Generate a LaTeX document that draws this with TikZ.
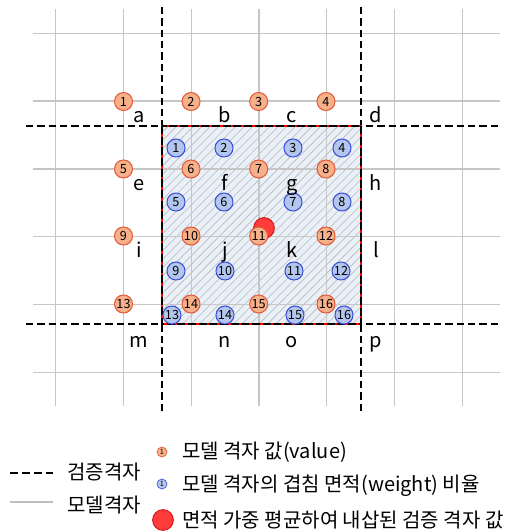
\documentclass[tikz,border=0pt]{standalone}
\usepackage{fontspec}
\setmainfont{Noto Sans CJK KR}
\usetikzlibrary{patterns.meta}

\begin{document}
\begin{tikzpicture}[x=0.75pt, y=-0.75pt]
    \definecolor{valFill}{HTML}{F6B08A}
    \definecolor{valBorder}{HTML}{E35B3A}
    \definecolor{weightFill}{HTML}{B3C6EE}
    \definecolor{weightBorder}{HTML}{3F51D6}
    \definecolor{estFill}{HTML}{FF3B3B}
    \definecolor{estBorder}{HTML}{D61F1F}
    \definecolor{areaFill}{HTML}{EAF0F8}

    \tikzset{
        modelgrid/.style={draw=gray!45, line width=1pt},
        valgrid/.style={draw=black, line width=2.2pt, dash pattern=on 5.5pt off 3pt},
        valnode/.style={circle, draw=valBorder, fill=valFill, line width=0.8pt, inner sep=0pt,
            minimum size=13.5pt, font=\fontsize{9.5}{9.5}\selectfont},
        weightnode/.style={valnode, draw=weightBorder, fill=weightFill},
        estnode/.style={circle, draw=estBorder, fill=estFill, line width=0.8pt, inner sep=0pt,
            minimum size=15.5pt},
        cellname/.style={anchor=base, inner sep=0pt, font=\fontsize{15}{15}\selectfont},
        legtext/.style={anchor=west, inner sep=0pt, font=\fontsize{15}{18}\selectfont}
    }

    \useasboundingbox (0,0) rectangle (513,532);

    % Overlapped area of the target cell
    \fill[areaFill] (162,126) rectangle (361,324);
    \fill[pattern={Lines[angle=45, distance=4.5pt, line width=0.45pt]}, pattern color=gray!55]
        (162,126) rectangle (361,324);

    % Model grid
    \foreach \i in {0,...,6}
        \draw[modelgrid] (55.7+67.75*\i,9) -- (55.7+67.75*\i,406);
    \foreach \j in {0,...,5}
        \draw[modelgrid] (33,33.3+67.8*\j) -- (500,33.3+67.8*\j);

    % Validation grid
    \foreach \x in {162,361}
        \draw[valgrid] (\x,7) -- (\x,413);
    \foreach \y in {126,324}
        \draw[valgrid] (26,\y) -- (500,\y);

    % Target cell border
    \draw[red, line width=2.2pt] (162,126) rectangle (361,324);
    \draw[black, line width=2.2pt, dash pattern=on 6pt off 2pt] (162,126) rectangle (361,324);

    % Interpolated value
    \node[estnode] (est) at (264,228) {};

    % Model grid values
    \foreach \y [count=\r from 0] in {101.5,169,236,304}
        \foreach \x [count=\c] in {123.5,191,258.7,326} {
            \pgfmathtruncatemacro\n{4*\r+\c}
            \node[valnode] (v\n) at (\x,\y) {\n};
        }

    % Overlap weights
    \foreach \x/\y [count=\n] in {176/148, 224/148, 293/148, 342/148,
                                  176/202, 224/202, 293/202, 342/202,
                                  176/271, 225/271, 294/271, 341/271,
                                  172/315, 225/315, 295/315, 344/315}
        \node[weightnode] (w\n) at (\x,\y) {\n};

    % Validation cell names
    \foreach \y [count=\r from 0] in {122,190,257,347}
        \foreach \x [count=\c from 0] in {139,225,292,376} {
            \pgfmathtruncatemacro\k{4*\r+\c}
            \pgfmathparse{{"a","b","c","d","e","f","g","h","i","j","k","l","m","n","o","p"}[\k]}
            \edef\cellName{\pgfmathresult}
            \node[cellname] (\cellName) at (\x,\y) {\cellName};
        }

    % Legend
    \coordinate (legValA) at (10,473);
    \coordinate (legValB) at (53,473);
    \draw[valgrid, dash pattern=on 6pt off 3pt] (legValA) -- (legValB);
    \node[legtext] (legValText) at (67,472) {검증격자};
    \coordinate (legModA) at (10,502);
    \coordinate (legModB) at (53,502);
    \draw[gray!50, line width=2pt] (legModA) -- (legModB);
    \node[legtext] (legModText) at (67,505) {모델격자};

    \node[valnode, minimum size=7.5pt, line width=0.5pt, font=\fontsize{5.5}{5.5}\selectfont] (legV) at (162,452) {1};
    \node[legtext] (legVText) at (182,452) {모델 격자 값(value)};
    \node[weightnode, minimum size=7.5pt, line width=0.5pt, font=\fontsize{5.5}{5.5}\selectfont] (legW) at (162,484) {1};
    \node[legtext] (legWText) at (182,486) {모델 격자의 겹침 면적(weight) 비율};
    \node[estnode] (legE) at (163,520) {};
    \node[legtext] (legEText) at (182,520) {면적 가중 평균하여 내삽된 검증 격자 값};

\end{tikzpicture}
\end{document}
